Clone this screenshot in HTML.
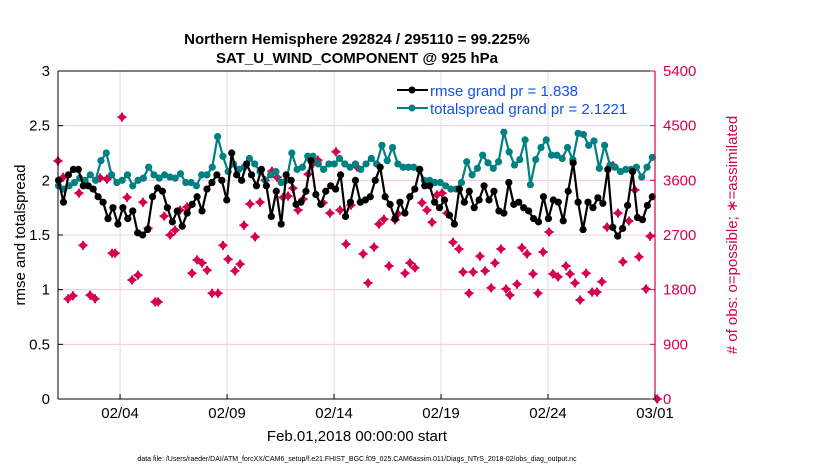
<!DOCTYPE html>
<html><head><meta charset="utf-8">
<style>
html,body{margin:0;padding:0;background:#fff;}
svg{display:block;font-family:"Liberation Sans",sans-serif;}
</style></head>
<body>
<svg id="chart" width="830" height="470" viewBox="0 0 830 470" xmlns="http://www.w3.org/2000/svg">
<text x="357" y="44" text-anchor="middle" font-size="15" font-weight="bold">Northern Hemisphere 292824 / 295110 = 99.225%</text>
<text x="357" y="63" text-anchor="middle" font-size="15" font-weight="bold">SAT_U_WIND_COMPONENT @ 925 hPa</text>
<g id="grid"></g>
<g id="marks"></g>
<g id="axes"></g>
<g>
  <line x1="397" y1="90" x2="428" y2="90" stroke="#000" stroke-width="2"/>
  <circle cx="412" cy="90" r="3.5" fill="#000"/>
  <text x="430" y="96" font-size="15" fill="#1450f0">rmse grand pr = 1.838</text>
  <line x1="397" y1="108" x2="428" y2="108" stroke="#008080" stroke-width="2"/>
  <circle cx="412" cy="108" r="3.5" fill="#008080"/>
  <text x="430" y="114" font-size="15" fill="#1450f0">totalspread grand pr = 2.1221</text>
</g>
<text transform="translate(25,235) rotate(-90)" text-anchor="middle" font-size="15">rmse and totalspread</text>
<text transform="translate(737,235) rotate(-90)" text-anchor="middle" font-size="15" fill="#d6004f"># of obs: o=possible; ∗=assimilated</text>
<text x="357" y="441" text-anchor="middle" font-size="15">Feb.01,2018 00:00:00 start</text>
<text x="357" y="461" text-anchor="middle" font-size="7">data file: /Users/raeder/DAI/ATM_forcXX/CAM6_setup/f.e21.FHIST_BGC.f09_025.CAM6assim.011/Diags_NTrS_2018-02/obs_diag_output.nc</text>
</svg>
<script>
const rmseVals=[2.0,1.8,2.05,2.1,2.1,1.95,1.95,1.92,1.85,1.8,1.65,1.75,1.6,1.75,1.65,1.72,1.52,1.5,1.55,1.85,
1.93,1.9,1.75,1.62,1.72,1.58,1.7,1.78,1.85,1.72,1.92,1.98,2.05,2.0,1.82,2.25,2.05,2.0,2.15,2.05,1.95,2.1,1.95,
1.67,1.9,1.6,2.05,2.0,1.78,1.8,1.9,2.18,1.87,1.78,1.9,1.95,1.92,2.05,1.67,1.8,2.0,
1.8,1.82,1.85,2.0,2.12,1.85,1.78,1.65,1.8,1.7,1.85,1.92,2.1,1.95,1.95,1.8,1.75,1.82,1.68,1.6,1.92,1.8,1.9,
1.75,1.82,1.95,1.82,1.9,1.72,1.7,1.98,1.78,1.8,1.75,1.72,1.65,1.62,1.85,1.65,1.82,1.8,1.63,1.9,2.16,1.8,1.55,
1.8,1.75,1.84,1.79,2.1,1.57,1.49,1.56,1.77,2.08,1.66,1.64,1.77,1.85];
const spreadVals=[1.95,1.92,1.95,1.98,2.02,2.0,2.05,2.0,2.18,2.25,2.05,1.98,2.0,2.05,1.95,2.0,2.02,2.12,2.05,2.02,
2.05,2.03,2.02,2.06,1.98,1.98,1.95,2.05,2.05,2.12,2.4,2.22,2.08,2.15,2.1,2.12,2.2,2.15,2.08,2.0,
2.05,2.08,1.98,2.0,2.25,2.1,2.12,2.22,2.22,2.15,2.1,2.15,2.15,2.2,2.15,2.12,2.15,
2.1,2.15,2.2,2.15,2.32,2.18,2.3,2.15,2.12,2.12,2.12,2.1,2.0,2.0,1.98,1.98,1.95,1.92,1.92,1.98,
2.17,2.05,2.11,2.23,2.16,2.11,2.17,2.44,2.26,2.14,2.19,2.37,1.96,2.19,2.3,2.37,2.23,2.23,2.2,2.3,2.19,2.43,
2.42,2.32,2.36,2.11,2.32,2.14,2.12,2.08,2.1,2.1,2.12,2.03,2.12,2.21];
const obsDays=[0.10,0.34,0.57,0.80,1.08,1.27,1.60,1.83,2.07,2.39,2.63,2.77,3.09,3.33,3.56,3.84,4.07,4.31,4.64,4.78,
5.06,5.34,5.57,5.80,6.13,6.36,6.60,6.83,7.07,7.30,7.58,7.81,8.05,8.37,8.61,8.79,9.07,9.31,9.54,9.78,
10.10,10.34,10.62,10.85,11.08,11.32,11.55,11.79,12.02,12.25,12.49,12.81,13.09,13.28,13.56,13.79,14.07,14.36,14.59,14.87,
15.10,15.33,15.57,15.85,15.99,16.32,16.55,16.78,17.11,17.34,17.58,17.81,18.05,18.28,18.56,18.84,19.03,19.31,19.50,19.82,
20.06,20.34,20.52,20.80,21.04,21.22,21.55,21.78,22.02,22.30,22.53,22.77,23.05,23.23,23.47,23.84,24.03,24.26,24.50,24.78,
25.06,25.29,25.52,25.76,26.04,26.27,26.50,26.78,27.06,27.25,27.58,27.77,28.1];
const obsVals=[3920,3650,1650,1700,3390,2530,1710,1650,3640,3620,2400,2400,4640,3320,1960,2040,3240,2810,1600,1600,
3010,2700,2780,3110,3160,2070,2290,2240,2120,1740,1740,2530,2300,2110,2220,2860,3210,2670,3240,3600,
3750,3650,3320,3340,3470,3110,3290,3700,3880,3930,3230,3060,4070,3110,2550,3190,3820,2390,1910,2500,
2880,2960,2190,2950,3050,2070,2240,2160,3230,3110,2910,3360,3390,3060,2580,2470,2090,1740,2090,2350,
2110,1830,2240,2470,1810,1710,1890,2490,2390,2060,1740,2420,2750,2060,2010,2190,2060,1910,1630,2070,
1760,1760,1930,2830,3840,3060,2260,2930,3440,2340,1810,2680,0];
const xTickLabels=["02/04","02/09","02/14","02/19","02/24","03/01"];
const xTickDays=[3,8,13,18,23,28];
const leftTicks=[0,0.5,1,1.5,2,2.5,3];
const rightTicks=[0,900,1800,2700,3600,4500,5400];

const L=58,R=655,T=71,B=399;
const dayMin=0.1,dayMax=28;
const xS=d=>L+(d-dayMin)/(dayMax-dayMin)*(R-L);
const yL=v=>B-v/3*(B-T);
const yR=v=>B-v/5400*(B-T);
const NS="http://www.w3.org/2000/svg";
function mk(tag,parent,attrs){const e=document.createElementNS(NS,tag);for(const k in attrs)e.setAttribute(k,attrs[k]);parent.appendChild(e);return e;}
const grid=document.getElementById('grid'),marks=document.getElementById('marks'),axes=document.getElementById('axes');
const CR="#d6004f";

mk('rect',grid,{x:L,y:T,width:R-L,height:B-T,fill:'#fff'});
leftTicks.forEach(v=>{const g=mk('line',grid,{x1:L,x2:R,y1:yL(v),y2:yL(v),stroke:'#f4cadb','stroke-width':1});

});
xTickDays.forEach(d=>{const g=mk('line',grid,{x1:xS(d),x2:xS(d),y1:T,y2:B,stroke:'#dddddd','stroke-width':1});

});

function series(vals,color,name){
  const n=vals.length;const t=i=>0.125+i*(27.75/(n-1));
  const p=vals.map((v,i)=>xS(t(i)).toFixed(1)+','+yL(v).toFixed(1)).join(' ');
  const pl=mk('polyline',marks,{points:p,fill:'none',stroke:color,'stroke-width':2.2});
  
  
  vals.forEach((v,i)=>{const c=mk('circle',marks,{cx:xS(t(i)),cy:yL(v),r:3.6,fill:color});
  
  });
}
obsDays.forEach((d,i)=>{const x=xS(d),y=yR(obsVals[i]);
  const g=mk('g',marks,{});
  
  
  mk('circle',g,{cx:x,cy:y,r:3.2,fill:CR});
  mk('path',g,{d:`M${x-4.5} ${y}H${x+4.5}M${x} ${y-4.5}V${y+4.5}`,stroke:CR,'stroke-width':2});
});
series(spreadVals,'#008080','totalspread');
series(rmseVals,'#000000','rmse');

mk('line',axes,{x1:L,x2:L,y1:T,y2:B,stroke:'#000','stroke-width':1});
mk('line',axes,{x1:L,x2:R,y1:B,y2:B,stroke:'#000','stroke-width':1});
mk('line',axes,{x1:L,x2:R,y1:T,y2:T,stroke:'#000','stroke-width':1});
mk('line',axes,{x1:R,x2:R,y1:T,y2:B,stroke:CR,'stroke-width':1.2});
leftTicks.forEach(v=>{mk('line',axes,{x1:L,x2:L+5,y1:yL(v),y2:yL(v),stroke:'#000'});
 const t=mk('text',axes,{x:L-8,y:yL(v)+5,'text-anchor':'end','font-size':15});t.textContent=String(v);
 
 });
rightTicks.forEach(v=>{mk('line',axes,{x1:R-5,x2:R,y1:yR(v),y2:yR(v),stroke:CR});
 const t=mk('text',axes,{x:R+8,y:yR(v)+5,'font-size':15,fill:CR});t.textContent=String(v);
 
 });
xTickDays.forEach((d,i)=>{mk('line',axes,{x1:xS(d),x2:xS(d),y1:B-5,y2:B,stroke:'#000'});
 const t=mk('text',axes,{x:xS(d),y:B+19,'text-anchor':'middle','font-size':15});t.textContent=xTickLabels[i];
 
 });
</script>
</body></html>
